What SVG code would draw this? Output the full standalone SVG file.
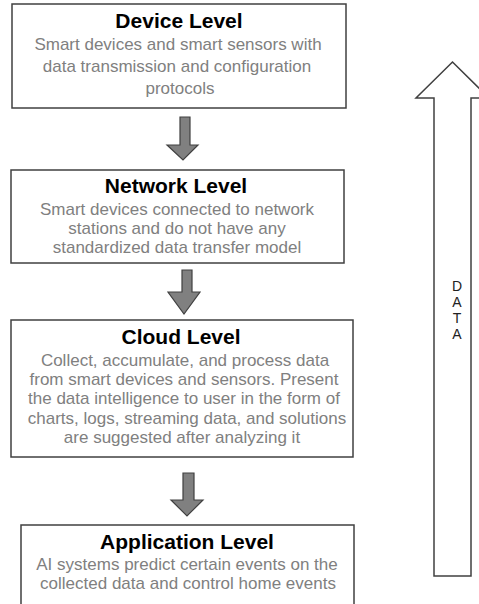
<svg xmlns="http://www.w3.org/2000/svg" width="479" height="604" viewBox="0 0 479 604">
<style>
.box{fill:#fff;stroke:#404040;stroke-width:1.5}
.t{font-family:"Liberation Sans",Arial,sans-serif;font-weight:bold;font-size:21px;fill:#000;text-anchor:middle}
.d{font-family:"Liberation Sans",Arial,sans-serif;font-size:17px;fill:#808080;text-anchor:middle}
.arr{fill:#808080;stroke:#404040;stroke-width:1.2}
.big{fill:#fff;stroke:#404040;stroke-width:1.5}
.v{font-family:"Liberation Sans",Arial,sans-serif;font-size:14px;fill:#222;text-anchor:middle}
</style>
<rect width="479" height="604" fill="#fff"/>
<g id="device">
<rect class="box" x="12" y="4" width="334" height="104"/>
<text class="t" x="179" y="28">Device Level</text>
<text class="d" x="178" y="50">Smart devices and smart sensors with</text>
<text class="d" x="177" y="72">data transmission and configuration</text>
<text class="d" x="180" y="94">protocols</text>
</g>
<g id="network">
<rect class="box" x="11" y="170" width="333" height="93"/>
<text class="t" x="176" y="193">Network Level</text>
<text class="d" x="177" y="215">Smart devices connected to network</text>
<text class="d" x="177" y="234">stations and do not have any</text>
<text class="d" x="177" y="253">standardized data transfer model</text>
</g>
<g id="cloud">
<rect class="box" x="11" y="320" width="342" height="137"/>
<text class="t" x="181" y="344">Cloud Level</text>
<text class="d" x="185" y="366">Collect, accumulate, and process data</text>
<text class="d" x="184" y="385">from smart devices and sensors. Present</text>
<text class="d" x="184" y="404">the data intelligence to user in the form of</text>
<text class="d" x="187" y="424">charts, logs, streaming data, and solutions</text>
<text class="d" x="182" y="443">are suggested after analyzing it</text>
</g>
<g id="application">
<rect class="box" x="21" y="525" width="333" height="100"/>
<text class="t" x="187" y="549">Application Level</text>
<text class="d" x="187" y="570">AI systems predict certain events on the</text>
<text class="d" x="188" y="589">collected data and control home events</text>
</g>
<g id="data">
<polygon class="big" points="452.5,62 416,98 434,98 434,576 471,576 471,98 489,98"/>
<text class="v" x="457" y="291">D</text>
<text class="v" x="457" y="307">A</text>
<text class="v" x="457" y="323">T</text>
<text class="v" x="457" y="339">A</text>
</g>
<g id="connectors">
<polygon class="arr" points="180,117 190,117 190,145 198,145 183,160 167,145 180,145"/>
<polygon class="arr" points="182,270 192,270 192,292 200,292 184,314 168,292 182,292"/>
<polygon class="arr" points="183,473 194,473 194,500 203,500 187,516 171,500 183,500"/>
</g>
</svg>
